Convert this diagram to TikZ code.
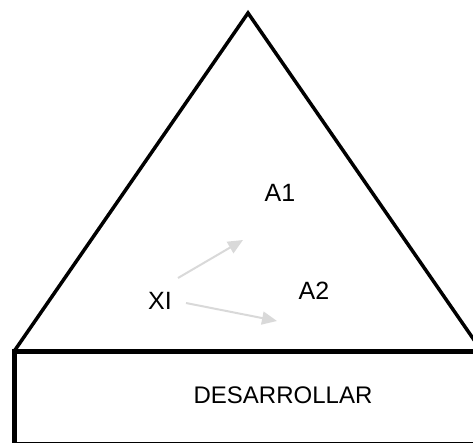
\documentclass[tikz,border=0pt]{standalone}
\usepackage{fontspec}
\setmainfont{Liberation Sans}
\usetikzlibrary{arrows.meta}

\definecolor{arrowgray}{HTML}{D9D9D9}

\begin{document}
\begin{tikzpicture}[
            x=1pt, y=-1pt,
            tag/.style={inner sep=0pt, font=\fontsize{25}{29}\selectfont},
            edge/.style={draw=black, line width=3.5pt, line join=miter},
            flow/.style={draw=arrowgray, line width=2pt,
                -{Triangle[length=15pt,width=13pt]}}
        ]
            \useasboundingbox (0,0) rectangle (473,443);
            \clip (0,0) rectangle (473,443);

            % Pyramid
            \coordinate (top) at (248,13);
            \coordinate (left) at (15,350);
            \coordinate (right) at (481,350);
            \draw[edge] (left) -- (top) -- (right);

            % Base block
            \draw[draw=black, line width=5pt] (14,351) rectangle (495,444.5);
            \node[tag, font=\fontsize{24}{28}\selectfont] (base) at (283,395) {DESARROLLAR};

            % Levels
            \node[tag] (a1) at (280,193) {A1};
            \node[tag] (a2) at (314,291) {A2};
            \node[tag] (xi) at (160,301) {XI};

            % Transitions
            \coordinate (s1) at (178,278);
            \coordinate (s2) at (186,303);
            \coordinate (t1) at (243,240);
            \coordinate (t2) at (277,321);
            \draw[flow] (s1) -- (t1);
            \draw[flow] (s2) -- (t2);
        \end{tikzpicture}
\end{document}
